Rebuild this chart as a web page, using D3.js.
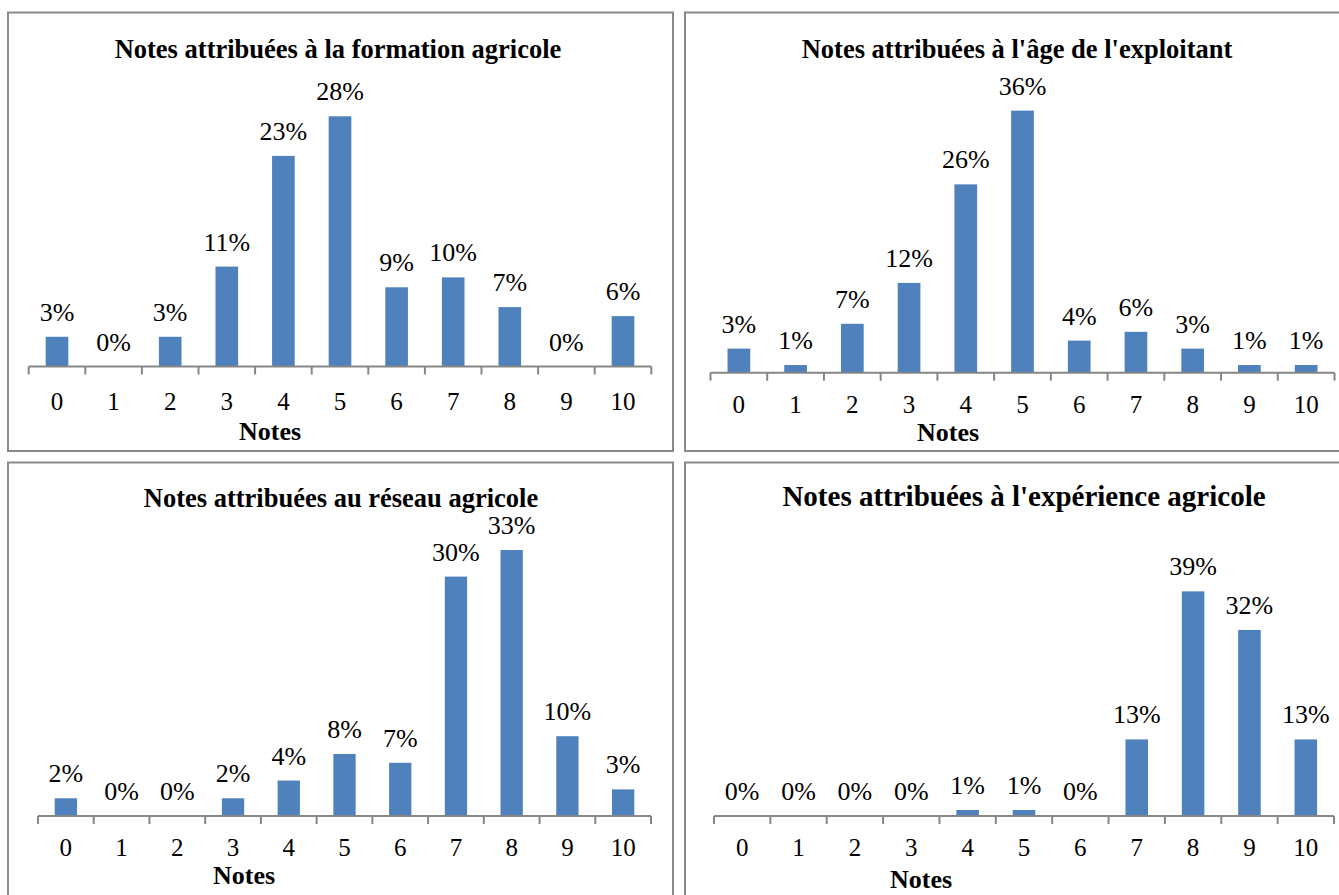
<!DOCTYPE html>
<html>
<head>
<meta charset="utf-8">
<script src="https://cdn.jsdelivr.net/npm/d3@7"></script>
<style>
  html, body { margin: 0; padding: 0; background: #fff; }
  svg { display: block; }
  text { font-family: "Liberation Serif", "Times New Roman", "DejaVu Serif", serif; fill: #000; }
</style>
</head>
<body>
<svg id="chart" width="1339" height="895"></svg>
<script>
// ---------- DATA ----------
const notes = ["0", "1", "2", "3", "4", "5", "6", "7", "8", "9", "10"];
const formationValues  = [3.3, 0, 3.3, 11.1, 23.4, 27.8, 8.8, 9.9, 6.6, 0, 5.6];
const ageValues        = [3.3, 1.05, 6.7, 12.3, 25.8, 35.9, 4.4, 5.6, 3.3, 1.05, 1.05];
const reseauValues     = [2.2, 0, 0, 2.2, 4.4, 7.7, 6.6, 29.7, 33.0, 9.9, 3.3];
const experienceValues = [0, 0, 0, 0, 1.04, 1.04, 0, 13.3, 39.0, 32.3, 13.3];
const panelTitles = [
  "Notes attribuées à la formation agricole",
  "Notes attribuées à l'âge de l'exploitant",
  "Notes attribuées au réseau agricole",
  "Notes attribuées à l'expérience agricole"
];
const axisTitle = "Notes";
const axisMaxima = [30, 40, 35, 45];

// ---------- LAYOUT ----------
const FONT = "'Liberation Serif', 'Times New Roman', 'DejaVu Serif', serif";
const panels = [
  { box: [8, 12.5, 665, 438.5], x0: 28.7, x1: 651.3, axisY: 366.5, top: 96.5, tickOff: 43,
    titleX: 338, titleY: 58, titleSize: 26.5, axisTitleX: 270, axisTitleY: 440, values: formationValues },
  { box: [685, 12.5, 670, 438.5], x0: 710.5, x1: 1334.5, axisY: 372.7, top: 80.7, tickOff: 40.5,
    titleX: 1017, titleY: 58, titleSize: 26.5, axisTitleX: 948, axisTitleY: 440.5, values: ageValues },
  { box: [8, 462.5, 665, 450], x0: 38, x1: 651, axisY: 816, top: 533.9, tickOff: 40,
    titleX: 341, titleY: 507, titleSize: 26.5, axisTitleX: 244, axisTitleY: 884, values: reseauValues },
  { box: [685, 462.5, 670, 450], x0: 714, x1: 1334, axisY: 816, top: 556.8, tickOff: 40,
    titleX: 1024, titleY: 506, titleSize: 29, axisTitleX: 921, axisTitleY: 888, values: experienceValues }
];

const svg = d3.select("#chart");
const fmt = v => d3.format(".0f")(v) + "%";
const barColor = "#4F81BD";
const gridGray = "#868686";

panels.forEach((p, i) => {
  const g = svg.append("g");

  g.append("rect")
    .attr("x", p.box[0]).attr("y", p.box[1])
    .attr("width", p.box[2]).attr("height", p.box[3])
    .attr("fill", "#fff").attr("stroke", "#8a8a8a").attr("stroke-width", 2);

  const x = d3.scaleBand().domain(notes).range([p.x0, p.x1]).padding(0);
  const y = d3.scaleLinear().domain([0, axisMaxima[i]]).range([p.axisY, p.top]);
  const bw = x.bandwidth() / 2.5;

  const data = notes.map((n, k) => ({ n, v: p.values[k] }));

  g.selectAll("rect.bar").data(data).join("rect")
    .attr("class", "bar")
    .attr("x", d => x(d.n) + (x.bandwidth() - bw) / 2)
    .attr("width", bw)
    .attr("y", d => y(d.v))
    .attr("height", d => y(0) - y(d.v))
    .attr("fill", barColor);

  g.append("line")
    .attr("x1", p.x0).attr("x2", p.x1)
    .attr("y1", y(0)).attr("y2", y(0))
    .attr("stroke", gridGray).attr("stroke-width", 2);

  const bounds = notes.map(n => x(n)).concat([p.x1]);
  g.selectAll("line.tk").data(bounds).join("line")
    .attr("class", "tk")
    .attr("x1", d => d).attr("x2", d => d)
    .attr("y1", y(0)).attr("y2", y(0) + 8)
    .attr("stroke", gridGray).attr("stroke-width", 2);

  const ax = g.append("g")
    .attr("transform", `translate(0,${y(0)})`)
    .call(d3.axisBottom(x).tickSize(0).tickPadding(0));
  ax.attr("font-family", FONT);
  ax.select(".domain").remove();
  ax.selectAll("text")
    .attr("dy", null)
    .attr("y", p.tickOff)
    .attr("font-size", 25)
    .attr("font-family", FONT)
    .attr("fill", "#000");

  g.selectAll("text.lbl").data(data).join("text")
    .attr("class", "lbl")
    .attr("x", d => x(d.n) + x.bandwidth() / 2)
    .attr("y", d => y(d.v) - 16)
    .attr("text-anchor", "middle")
    .attr("font-family", FONT)
    .attr("font-size", 26)
    .text(d => fmt(d.v));

  g.append("text")
    .attr("x", p.titleX).attr("y", p.titleY)
    .attr("text-anchor", "middle")
    .attr("font-family", FONT)
    .attr("font-size", p.titleSize).attr("font-weight", "bold")
    .text(panelTitles[i]);

  g.append("text")
    .attr("x", p.axisTitleX).attr("y", p.axisTitleY)
    .attr("text-anchor", "middle")
    .attr("font-family", FONT)
    .attr("font-size", 26).attr("font-weight", "bold")
    .text(axisTitle);
});
</script>
</body>
</html>
